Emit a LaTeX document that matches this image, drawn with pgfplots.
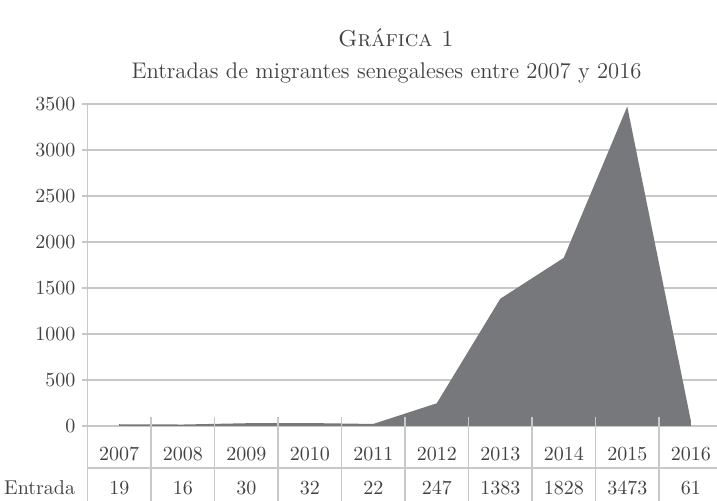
\documentclass[border=0pt]{standalone}
\usepackage{pgfplots}
\pgfplotsset{compat=1.18}
\definecolor{txt}{HTML}{424242}
\definecolor{gridc}{HTML}{C8C8C8}
\definecolor{areac}{HTML}{77787B}
\begin{document}
\begin{tikzpicture}
\begin{axis}[
  name=ax, scale only axis, width=317.5pt, height=161pt,
  xmin=-0.5, xmax=9.5, ymin=0, ymax=3500,
  clip=false,
  axis line style={draw=none},
  xtick=\empty,
  ytick={0,500,...,3500},
  ymajorgrids, major grid style={gridc, line width=0.6pt},
  ytick pos=left, tick align=outside, major tick length=2.5pt,
  tick style={gridc, line width=0.6pt},
  y tick label style={font=\fontsize{10}{12}\selectfont, text=txt},
  /pgf/number format/assume math mode=true,
  /pgf/number format/1000 sep={},
]
\addplot[fill=areac, draw=none] coordinates {
  (0,19) (1,16) (2,30) (3,32) (4,22) (5,247) (6,1383) (7,1828) (8,3473) (9,61)
} \closedcycle;
% table lines
\draw[gridc, line width=0.6pt] (axis cs:-0.5,3500) -- ([yshift=-40pt]axis cs:-0.5,0);
\draw[gridc, line width=0.6pt] ([yshift=-21pt]axis cs:-0.5,0) -- ([yshift=-21pt]axis cs:9.5,0);
\draw[gridc, line width=0.6pt] ([yshift=4.5pt]axis cs:0.5,0) -- ([yshift=-40pt]axis cs:0.5,0);
\draw[gridc, line width=0.6pt] ([yshift=4.5pt]axis cs:1.5,0) -- ([yshift=-40pt]axis cs:1.5,0);
\draw[gridc, line width=0.6pt] ([yshift=4.5pt]axis cs:2.5,0) -- ([yshift=-40pt]axis cs:2.5,0);
\draw[gridc, line width=0.6pt] ([yshift=4.5pt]axis cs:3.5,0) -- ([yshift=-40pt]axis cs:3.5,0);
\draw[gridc, line width=0.6pt] ([yshift=4.5pt]axis cs:4.5,0) -- ([yshift=-40pt]axis cs:4.5,0);
\draw[gridc, line width=0.6pt] ([yshift=4.5pt]axis cs:5.5,0) -- ([yshift=-40pt]axis cs:5.5,0);
\draw[gridc, line width=0.6pt] ([yshift=4.5pt]axis cs:6.5,0) -- ([yshift=-40pt]axis cs:6.5,0);
\draw[gridc, line width=0.6pt] ([yshift=4.5pt]axis cs:7.5,0) -- ([yshift=-40pt]axis cs:7.5,0);
\draw[gridc, line width=0.6pt] ([yshift=4.5pt]axis cs:8.5,0) -- ([yshift=-40pt]axis cs:8.5,0);
% years
\begin{scope}[every node/.style={font=\fontsize{10}{12}\selectfont, text=txt}]
\node at ([yshift=-14pt]axis cs:0,0) {2007};
\node at ([yshift=-14pt]axis cs:1,0) {2008};
\node at ([yshift=-14pt]axis cs:2,0) {2009};
\node at ([yshift=-14pt]axis cs:3,0) {2010};
\node at ([yshift=-14pt]axis cs:4,0) {2011};
\node at ([yshift=-14pt]axis cs:5,0) {2012};
\node at ([yshift=-14pt]axis cs:6,0) {2013};
\node at ([yshift=-14pt]axis cs:7,0) {2014};
\node at ([yshift=-14pt]axis cs:8,0) {2015};
\node at ([yshift=-14pt]axis cs:9,0) {2016};
\node at ([yshift=-31pt]axis cs:0,0) {19};
\node at ([yshift=-31pt]axis cs:1,0) {16};
\node at ([yshift=-31pt]axis cs:2,0) {30};
\node at ([yshift=-31pt]axis cs:3,0) {32};
\node at ([yshift=-31pt]axis cs:4,0) {22};
\node at ([yshift=-31pt]axis cs:5,0) {247};
\node at ([yshift=-31pt]axis cs:6,0) {1383};
\node at ([yshift=-31pt]axis cs:7,0) {1828};
\node at ([yshift=-31pt]axis cs:8,0) {3473};
\node at ([yshift=-31pt]axis cs:9,0) {61};
\node[anchor=east, inner sep=0pt] at ([xshift=-6pt, yshift=-31pt]axis cs:-0.5,0) {Entrada};
\end{scope}
\end{axis}
\node[anchor=base, text=txt, font=\fontsize{11.5}{13}\selectfont] at ([xshift=154.25pt, yshift=28.5pt]ax.north west) {\textsc{Gráfica 1}};
\node[anchor=base, text=txt, font=\fontsize{11.3}{14}\selectfont] at ([xshift=149.5pt, yshift=12.5pt]ax.north west) {Entradas de migrantes senegaleses entre 2007 y 2016};
\pgfresetboundingbox
\path[use as bounding box] ([xshift=-43.75pt, yshift=-37.5pt]ax.south west) rectangle ([xshift=314.75pt, yshift=52pt]ax.north west);
\end{tikzpicture}
\end{document}
